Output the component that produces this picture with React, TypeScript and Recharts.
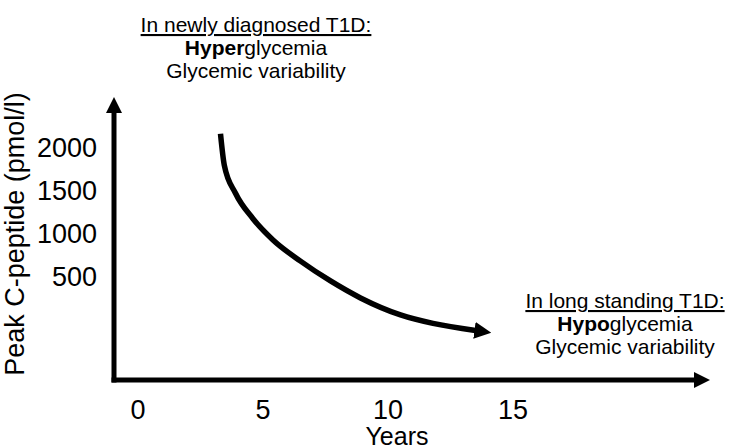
import React from 'react';
import { LineChart, Line, XAxis, YAxis, ReferenceLine } from 'recharts';

// Curve: schematic decline of peak C-peptide over years (relative units 0-100)
const curveYears = [3.3, 3.45, 3.9, 4.6, 5.4, 6.5, 7.7, 8.9, 10.5, 11.8, 13.5];
const curveLevel = [87, 76, 66, 57, 49.5, 42, 35, 29, 23, 20, 17.5];

const xTicks = [0, 5, 10, 15];
const yTicks = [500, 1000, 1500, 2000];
const xDomain: [number, number] = [-0.96, 22.88];
const yDomain: [number, number] = [-694, 2581];
const curveDomain: [number, number] = [0, 100];

const data = curveYears.map((x, i) => ({ x, level: curveLevel[i] }));

const FONT = '"Liberation Sans", Arial, Helvetica, sans-serif';

const ArrowLine = (props: any) => {
  const { x1, y1, x2, y2 } = props;
  const dx = x2 - x1;
  const dy = y2 - y1;
  const len = Math.sqrt(dx * dx + dy * dy) || 1;
  const ux = dx / len;
  const uy = dy / len;
  const head = 16;
  const half = 8;
  const bx = x2 - ux * head;
  const by = y2 - uy * head;
  const px = -uy;
  const py = ux;
  return (
    <g>
      <line x1={x1} y1={y1} x2={bx + ux * 1} y2={by + uy * 1} stroke="#000" strokeWidth={5} strokeLinecap="square" />
      <polygon
        points={`${x2},${y2} ${bx + px * half},${by + py * half} ${bx - px * half},${by - py * half}`}
        fill="#000"
      />
    </g>
  );
};

export default function App() {
  return (
    <div style={{ position: 'absolute', left: 0, top: 0, width: 750, height: 447, background: '#fff' }}>
      <svg width={0} height={0} style={{ position: 'absolute' }}>
        <defs>
          <marker
            id="curveArrow"
            markerUnits="userSpaceOnUse"
            markerWidth={17}
            markerHeight={17}
            viewBox="0 0 16 16"
            refX={1}
            refY={8}
            orient="auto"
          >
            <path d="M0,0 L16,8 L0,16 z" fill="#000" />
          </marker>
        </defs>
      </svg>
      <LineChart width={750} height={447} data={data} margin={{ top: 97, right: 40, bottom: 7, left: 14 }}>
        <XAxis
          dataKey="x"
          type="number"
          domain={xDomain}
          ticks={xTicks}
          allowDataOverflow
          axisLine={false}
          tickLine={false}
          tickSize={0}
          tickMargin={20}
          height={60}
          tick={{ fontSize: 27, fill: '#000', fontFamily: FONT }}
          label={{
            content: (p: any) => {
              const vb = p.viewBox || {};
              return (
                <text x={vb.x + vb.width / 2 - 15} y={vb.y + vb.height + 5} textAnchor="middle" fontSize={25} fontFamily={FONT} fill="#000">
                  Years
                </text>
              );
            },
          }}
        />
        <YAxis
          yAxisId="main"
          type="number"
          domain={yDomain}
          ticks={yTicks}
          allowDataOverflow
          axisLine={false}
          tickLine={false}
          tickSize={0}
          tickMargin={17}
          width={100}
          tick={{ fontSize: 27, fill: '#000', fontFamily: FONT }}
          label={{
            content: () => {
              const cx = 24;
              const cy = 234;
              return (
                <text x={cx} y={cy} transform={`rotate(-90 ${cx} ${cy})`} textAnchor="middle" fontSize={27} fontFamily={FONT} fill="#000">
                  Peak C-peptide (pmol/l)
                </text>
              );
            },
          }}
        />
        <YAxis yAxisId="curve" orientation="right" hide width={0} type="number" domain={curveDomain} allowDataOverflow />
        <ReferenceLine
          yAxisId="curve"
          segment={[{ x: xDomain[0], y: curveDomain[0] }, { x: xDomain[1], y: curveDomain[0] }]}
          ifOverflow="visible"
          shape={ArrowLine}
        />
        <ReferenceLine
          yAxisId="curve"
          segment={[{ x: xDomain[0], y: curveDomain[0] }, { x: xDomain[0], y: curveDomain[1] }]}
          ifOverflow="visible"
          shape={ArrowLine}
        />
        <Line
          yAxisId="curve"
          dataKey="level"
          type="monotone"
          stroke="#000"
          strokeWidth={5.5}
          dot={false}
          activeDot={false}
          isAnimationActive={false}
          markerEnd="url(#curveArrow)"
        />
      </LineChart>
      <svg width={750} height={447} style={{ position: 'absolute', left: 0, top: 0, pointerEvents: 'none' }}>
        <g fontFamily={FONT} fontSize={21} fill="#000" textAnchor="middle">
          <text x={256} y={32} textDecoration="underline">In newly diagnosed T1D:</text>
          <text x={256} y={55}><tspan fontWeight="bold">Hyper</tspan>glycemia</text>
          <text x={256} y={78}>Glycemic variability</text>
          <text x={625} y={308} textDecoration="underline">In long standing T1D:</text>
          <text x={625} y={331}><tspan fontWeight="bold">Hypo</tspan>glycemia</text>
          <text x={625} y={354}>Glycemic variability</text>
        </g>
      </svg>
    </div>
  );
}
